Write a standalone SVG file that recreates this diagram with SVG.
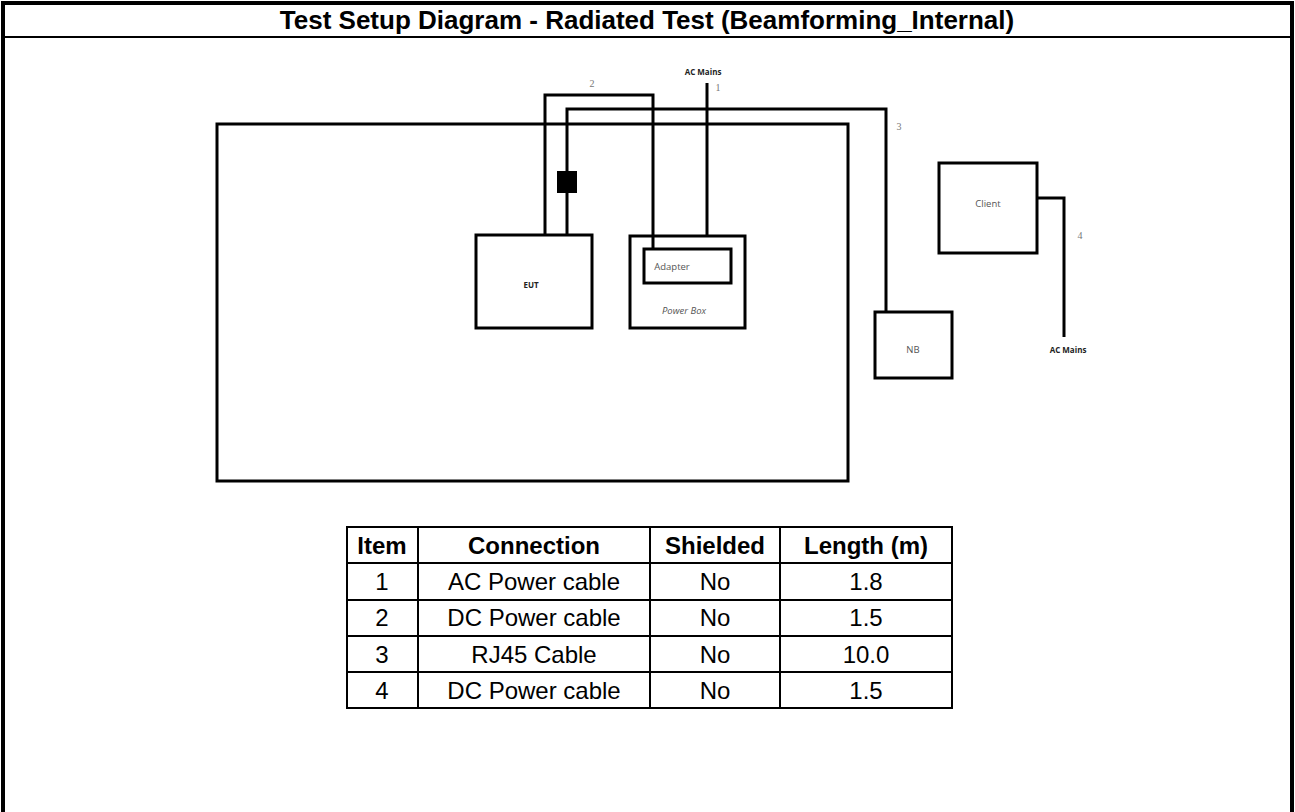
<svg xmlns="http://www.w3.org/2000/svg" width="1295" height="812" viewBox="0 0 1295 812">
<style>
.frame{fill:none;stroke:#000;stroke-width:4}
.sep{stroke:#000;stroke-width:2}
.box{fill:none;stroke:#000;stroke-width:3}
.wire{fill:none;stroke:#000;stroke-width:3}
.title{font-family:"Liberation Sans",Arial,sans-serif;font-weight:bold;font-size:26px;text-anchor:middle}
.lbl{font-family:"Open Sans","Liberation Sans",sans-serif;font-size:9.5px;fill:#555;text-anchor:middle}
.lblb{font-family:"Open Sans","Liberation Sans",sans-serif;font-size:8px;font-weight:bold;fill:#222;text-anchor:middle}
.num{font-family:"Liberation Serif",serif;font-size:10px;fill:#777;text-anchor:middle}
.tl{stroke:#000;stroke-width:2}
.th{font-family:"Liberation Sans",Arial,sans-serif;font-weight:bold;font-size:24px;text-anchor:middle}
.td{font-family:"Liberation Sans",Arial,sans-serif;font-size:24px;text-anchor:middle}
</style>
<rect x="0" y="0" width="1295" height="812" fill="#fff"/>
<g id="frame">
<path class="frame" d="M3,812 V3 H1292 V812"/>
<line class="sep" x1="3" y1="37" x2="1292" y2="37"/>
<text class="title" x="647" y="29">Test Setup Diagram - Radiated Test (Beamforming_Internal)</text>
</g>
<g id="table-area">
<rect class="box" x="217" y="124" width="631" height="357"/>
</g>
<g id="connectors">
<path class="wire" d="M545,235 V95 H653 V249"/>
<path class="wire" d="M567,235 V109 H886 V312"/>
<path class="wire" d="M707,83 V236"/>
<path class="wire" d="M1037,198 H1064 V337"/>
<rect x="557" y="171" width="20" height="22" fill="#000"/>
<text class="num" x="592" y="87">2</text>
<text class="num" x="718" y="91">1</text>
<text class="num" x="899" y="130">3</text>
<text class="num" x="1080" y="239">4</text>
<text class="lblb" x="703" y="75">AC Mains</text>
<text class="lblb" x="1068" y="353">AC Mains</text>
</g>
<g id="eut">
<rect class="box" x="476" y="235" width="116" height="93"/>
<text class="lblb" x="531" y="288">EUT</text>
</g>
<g id="powerbox">
<rect class="box" x="630" y="236" width="115" height="92"/>
<text class="lbl" x="684" y="314" font-style="italic">Power Box</text>
</g>
<g id="adapter">
<rect class="box" x="644" y="249" width="87" height="34"/>
<text class="lbl" x="672" y="270">Adapter</text>
</g>
<g id="client">
<rect class="box" x="939" y="163" width="98" height="90"/>
<text class="lbl" x="988" y="207">Client</text>
</g>
<g id="nb">
<rect class="box" x="875" y="312" width="77" height="66"/>
<text class="lbl" x="913" y="353">NB</text>
</g>
<g id="table">
<rect x="347" y="527" width="605" height="181" fill="none" stroke="#000" stroke-width="2"/>
<line class="tl" x1="418" y1="527" x2="418" y2="708"/>
<line class="tl" x1="650" y1="527" x2="650" y2="708"/>
<line class="tl" x1="780" y1="527" x2="780" y2="708"/>
<line class="tl" x1="347" y1="563" x2="952" y2="563"/>
<line class="tl" x1="347" y1="600" x2="952" y2="600"/>
<line class="tl" x1="347" y1="636" x2="952" y2="636"/>
<line class="tl" x1="347" y1="672" x2="952" y2="672"/>
<text class="th" x="382" y="554">Item</text>
<text class="th" x="534" y="554">Connection</text>
<text class="th" x="715" y="554">Shielded</text>
<text class="th" x="866" y="554">Length (m)</text>
<text class="td" x="382" y="590">1</text><text class="td" x="534" y="590">AC Power cable</text><text class="td" x="715" y="590">No</text><text class="td" x="866" y="590">1.8</text>
<text class="td" x="382" y="626">2</text><text class="td" x="534" y="626">DC Power cable</text><text class="td" x="715" y="626">No</text><text class="td" x="866" y="626">1.5</text>
<text class="td" x="382" y="663">3</text><text class="td" x="534" y="663">RJ45 Cable</text><text class="td" x="715" y="663">No</text><text class="td" x="866" y="663">10.0</text>
<text class="td" x="382" y="699">4</text><text class="td" x="534" y="699">DC Power cable</text><text class="td" x="715" y="699">No</text><text class="td" x="866" y="699">1.5</text>
</g>
</svg>
